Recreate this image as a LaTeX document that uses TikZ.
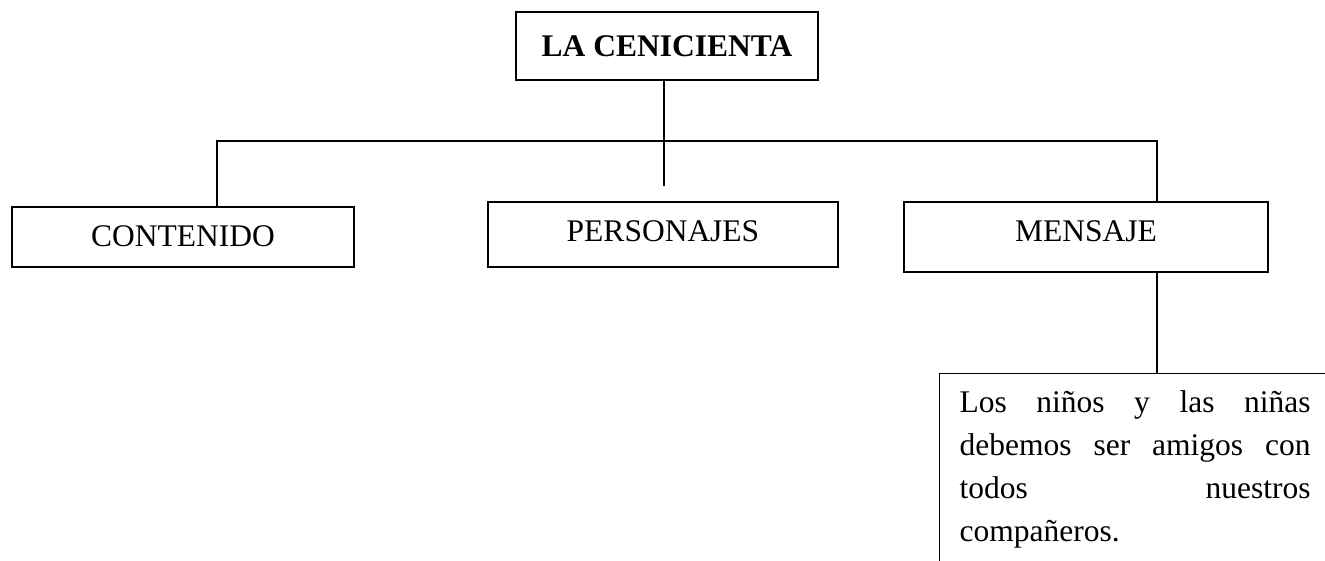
\documentclass[tikz,border=0pt]{standalone}
\usepackage{fontspec}
\setmainfont{Liberation Serif}
\usepackage{tikz}

\begin{document}
\begin{tikzpicture}[x=1pt,y=1pt]
	\tikzstyle{every node}+=[inner sep=0pt, font=\fontsize{31.5}{43}\selectfont]
	\tikzstyle{box}=[draw=black, line width=1.2pt]
	\tikzstyle{line}=[black, line width=1.4pt]
	\clip (0,0) rectangle (1325,-561);
	\node [box, minimum width=302pt, minimum height=68pt] (titulo) at (667,-46) {\textbf{LA CENICIENTA}};
	\node [box, minimum width=342pt, minimum height=60pt, text depth=1pt] (contenido) at (183,-237) {CONTENIDO};
	\node [box, minimum width=350pt, minimum height=65pt, text depth=6pt] (personajes) at (663,-234.5) {PERSONAJES};
	\node [box, minimum width=364pt, minimum height=70pt, text depth=11pt] (mensaje) at (1086,-237) {MENSAJE};
	\node [box, anchor=north west, text width=351pt, align=justify, inner xsep=20pt, inner ysep=17pt] (texto) at (939,-373)
		{Los\hfill niños\hfill y\hfill las\hfill niñas\\ debemos\hfill ser\hfill amigos\hfill con\\ todos\hfill nuestros\\ compañeros.};
	\coordinate (izq) at (217,-141);
	\coordinate (der) at (1157,-141);
	\coordinate (centro) at (664,-186);
	\draw [line] (titulo.south -| centro) -- (centro);
	\draw [line] (contenido.north -| izq) -- (izq) -- (der) -- (mensaje.north -| der);
	\draw [line] (mensaje.south -| der) -- (texto.north -| der);
\end{tikzpicture}
\end{document}
